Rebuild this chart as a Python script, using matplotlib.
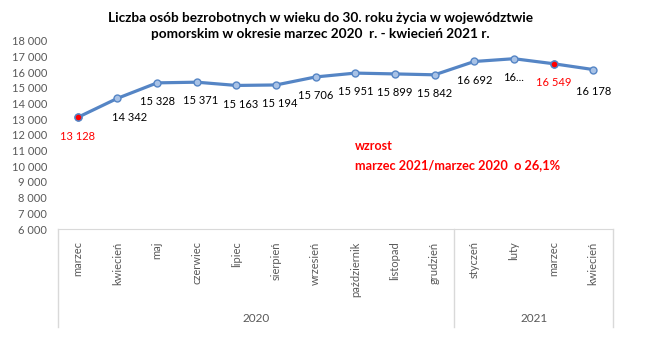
import numpy as np
import matplotlib
matplotlib.use("Agg")
import matplotlib.pyplot as plt
from matplotlib.ticker import FuncFormatter

plt.rcParams['font.family'] = ['Lato', 'DejaVu Sans']

# data
months = ['marzec', 'kwiecień', 'maj', 'czerwiec', 'lipiec', 'sierpień', 'wrzesień',
          'październik', 'listopad', 'grudzień', 'styczeń', 'luty', 'marzec', 'kwiecień']
years = ['2020', '2021']
year_counts = [10, 4]
values = [13128, 14342, 15328, 15371, 15163, 15194, 15706, 15951, 15899, 15842,
          16692, 16870, 16549, 16178]
value_labels = ['13 128', '14 342', '15 328', '15 371', '15 163', '15 194', '15 706',
                '15 951', '15 899', '15 842', '16 692', '16...', '16 549', '16 178']
highlight = [0, 12]

line_color = '#5585C5'
fig = plt.figure(figsize=(6.49, 3.63), dpi=100)
ax = fig.add_axes([58 / 649, 134 / 363, 555 / 649, 188 / 363])

x = np.arange(len(months))
ax.plot(x, values, color=line_color, lw=2.3, marker='o', ms=5,
        mfc='#A8C2E6', mec=line_color, mew=1, zorder=3)
ax.plot(x[highlight], [values[i] for i in highlight], 'o', ms=5,
        mfc='#FF0000', mec=line_color, mew=1, zorder=4)

# data labels
for i, (v, lab) in enumerate(zip(values, value_labels)):
    red = i in highlight
    dx = 9 if i == 1 else (3 if i in (3, 4, 5) else 0)
    dy = -16 if i == 13 else -13.5
    ax.annotate(lab, (i, v), xytext=(dx, dy), textcoords='offset points',
                ha='center', va='center', fontsize=8,
                color='#FF0000' if red else 'black')

ax.set_xlim(-0.5, len(months) - 0.5)
ax.set_ylim(6000, 18000)
ax.set_yticks(range(6000, 18001, 1000))
ax.yaxis.set_major_formatter(FuncFormatter(lambda v, p: f'{int(v):,}'.replace(',', ' ')))
ax.tick_params(axis='y', length=0, labelsize=8, labelcolor='#595959', pad=8)

ax.set_xticks(x)
ax.set_xticklabels(months, rotation=90, fontsize=8, color='#595959', va='top')
ax.tick_params(axis='x', length=0, pad=9)

for s in ['top', 'right', 'left']:
    ax.spines[s].set_visible(False)
ax.spines['bottom'].set_color('#D9D9D9')

# group separators and year labels
start = 0
trans = ax.get_xaxis_transform()
bounds = [-0.5]
for yr, n in zip(years, year_counts):
    ax.text(start + (n - 1) / 2, -0.475, yr, transform=trans, ha='center', va='center',
            fontsize=8.5, color='#595959')
    start += n
    bounds.append(start - 0.5)
for b in bounds:
    ax.plot([b, b], [0, -0.52], transform=trans, color='#D9D9D9', lw=1, clip_on=False)

# note
ax.text(7.0, 11300, 'wzrost', color='#FF0000', fontsize=9, fontweight='bold', va='center')
ax.text(7.0, 10100, 'marzec 2021/marzec 2020  o 26,1%', color='#FF0000', fontsize=9.2,
        fontweight='bold', va='center')

fig.text(320 / 649, 1 - 26 / 363,
         'Liczba osób bezrobotnych w wieku do 30. roku życia w województwie\n'
         'pomorskim w okresie marzec 2020  r. - kwiecień 2021 r.',
         ha='center', va='center', fontsize=9.8, fontweight='bold', linespacing=1.4)

fig.savefig('out.png', dpi=100)
